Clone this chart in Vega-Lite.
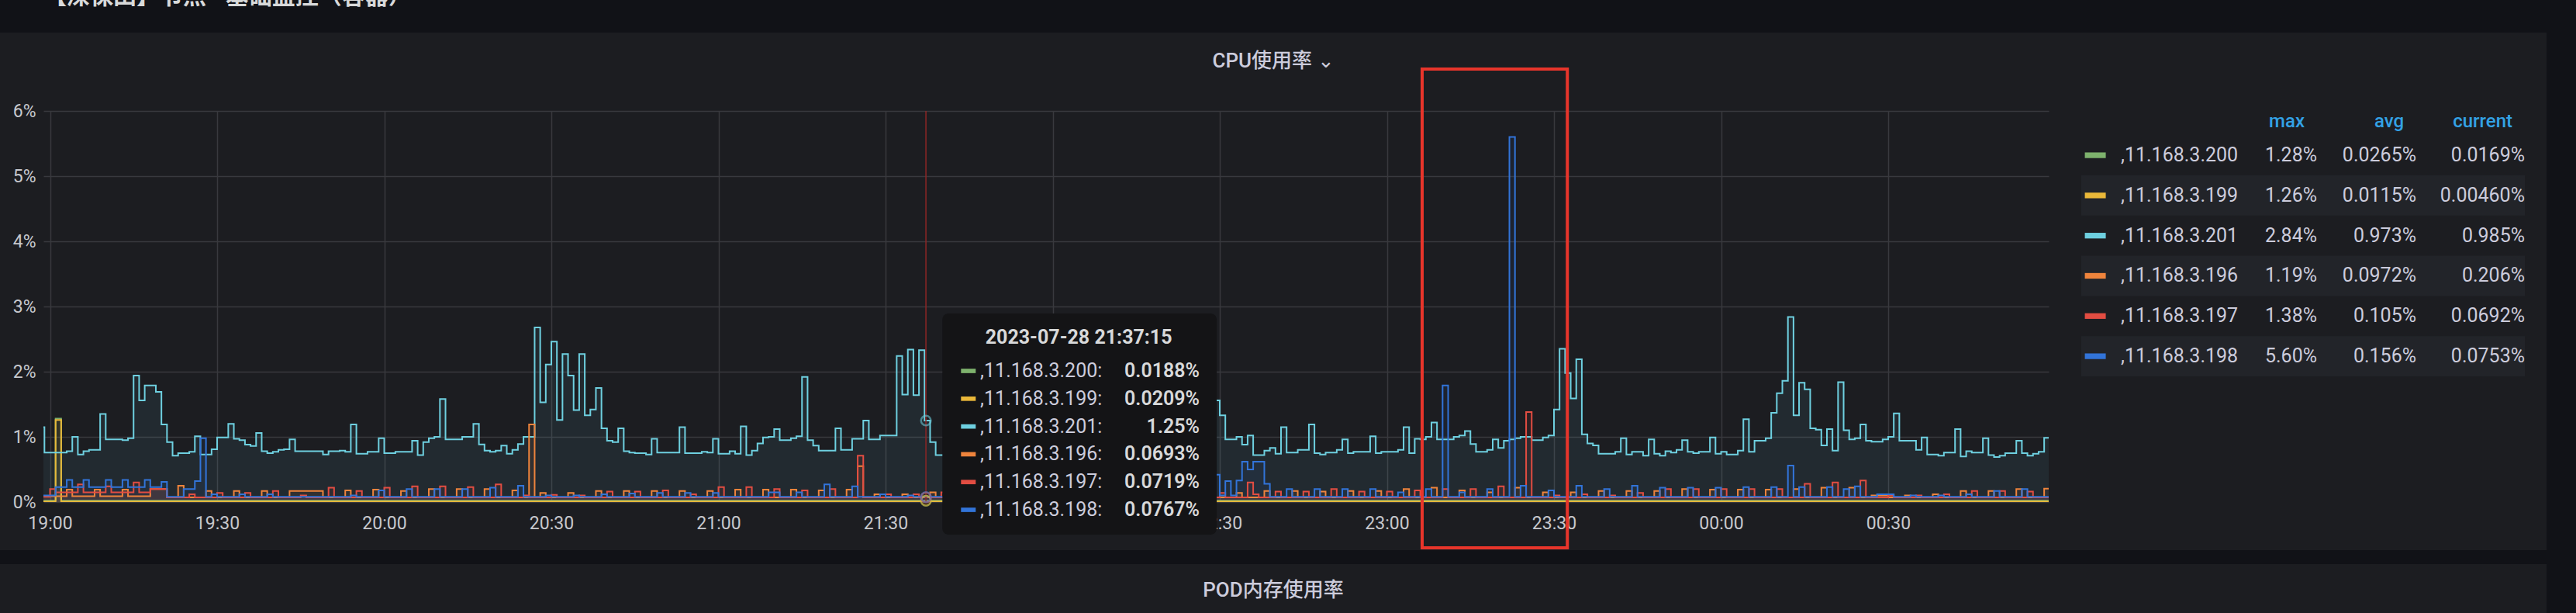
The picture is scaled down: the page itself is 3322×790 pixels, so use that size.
{
"$schema": "https://vega.github.io/schema/vega-lite/v6.json",
"padding": 0,
"autosize": {"type": "pad"},
"background": "#1c1d21",
"columns": 10,
"spacing": 0,
"bounds": "flush",
"align": "each",
"config": {
  "view": {"stroke": null},
  "font": "Roboto, 'Noto Sans CJK SC'",
  "axis": {"labelFont": "Roboto, 'Noto Sans CJK SC'"},
  "title": {"font": "Roboto, 'Noto Sans CJK SC'"}
},
"datasets": {
"ts": [
{"s":"200","t":"28 18:58","v":0.02},{"s":"200","t":"28 19:01","v":1.28},{"s":"200","t":"28 19:02","v":0.02},{"s":"200","t":"29 00:59","v":0.017},
{"s":"199","t":"28 18:58","v":0.01},{"s":"199","t":"28 19:01","v":1.26},{"s":"199","t":"28 19:02","v":0.01},{"s":"199","t":"29 00:59","v":0.005},
{"s":"201","t":"28 18:58","v":1.15},{"s":"201","t":"28 18:59","v":0.76},{"s":"201","t":"28 19:03","v":0.78},{"s":"201","t":"28 19:04","v":1.0},{"s":"201","t":"28 19:05","v":0.73},{"s":"201","t":"28 19:06","v":0.78},{"s":"201","t":"28 19:07","v":0.8},{"s":"201","t":"28 19:09","v":1.35},{"s":"201","t":"28 19:10","v":0.96},{"s":"201","t":"28 19:13","v":0.95},{"s":"201","t":"28 19:14","v":0.98},{"s":"201","t":"28 19:15","v":1.94},{"s":"201","t":"28 19:16","v":1.56},{"s":"201","t":"28 19:17","v":1.79},{"s":"201","t":"28 19:19","v":1.69},{"s":"201","t":"28 19:20","v":1.19},{"s":"201","t":"28 19:21","v":0.92},{"s":"201","t":"28 19:22","v":0.71},{"s":"201","t":"28 19:23","v":0.75},{"s":"201","t":"28 19:25","v":0.77},{"s":"201","t":"28 19:26","v":1.01},{"s":"201","t":"28 19:27","v":0.73},{"s":"201","t":"28 19:29","v":0.81},{"s":"201","t":"28 19:30","v":0.99},{"s":"201","t":"28 19:32","v":1.2},{"s":"201","t":"28 19:33","v":0.97},{"s":"201","t":"28 19:34","v":0.95},{"s":"201","t":"28 19:35","v":0.88},{"s":"201","t":"28 19:36","v":0.86},{"s":"201","t":"28 19:37","v":1.06},{"s":"201","t":"28 19:38","v":0.78},{"s":"201","t":"28 19:39","v":0.75},{"s":"201","t":"28 19:40","v":0.77},{"s":"201","t":"28 19:41","v":0.8},{"s":"201","t":"28 19:42","v":0.81},{"s":"201","t":"28 19:43","v":0.96},{"s":"201","t":"28 19:44","v":0.78},{"s":"201","t":"28 19:49","v":0.73},{"s":"201","t":"28 19:50","v":0.78},{"s":"201","t":"28 19:52","v":0.79},{"s":"201","t":"28 19:53","v":0.77},{"s":"201","t":"28 19:54","v":1.19},{"s":"201","t":"28 19:55","v":0.74},{"s":"201","t":"28 19:57","v":0.77},{"s":"201","t":"28 19:59","v":0.98},
{"s":"201","t":"28 20:00","v":0.75},{"s":"201","t":"28 20:02","v":0.77},{"s":"201","t":"28 20:05","v":0.94},{"s":"201","t":"28 20:06","v":0.72},{"s":"201","t":"28 20:07","v":0.92},{"s":"201","t":"28 20:08","v":0.98},{"s":"201","t":"28 20:09","v":1.0},{"s":"201","t":"28 20:10","v":1.58},{"s":"201","t":"28 20:11","v":0.96},{"s":"201","t":"28 20:14","v":1.0},{"s":"201","t":"28 20:16","v":1.2},{"s":"201","t":"28 20:17","v":0.885},{"s":"201","t":"28 20:18","v":0.79},{"s":"201","t":"28 20:19","v":0.77},{"s":"201","t":"28 20:20","v":0.79},{"s":"201","t":"28 20:21","v":0.865},{"s":"201","t":"28 20:22","v":0.74},{"s":"201","t":"28 20:23","v":0.8},{"s":"201","t":"28 20:24","v":0.89},{"s":"201","t":"28 20:25","v":1.0},{"s":"201","t":"28 20:27","v":2.68},{"s":"201","t":"28 20:28","v":1.53},{"s":"201","t":"28 20:29","v":2.11},{"s":"201","t":"28 20:30","v":2.46},{"s":"201","t":"28 20:31","v":1.26},{"s":"201","t":"28 20:32","v":2.27},{"s":"201","t":"28 20:33","v":1.94},{"s":"201","t":"28 20:34","v":1.41},{"s":"201","t":"28 20:35","v":2.27},{"s":"201","t":"28 20:36","v":1.33},{"s":"201","t":"28 20:37","v":1.42},{"s":"201","t":"28 20:38","v":1.75},{"s":"201","t":"28 20:39","v":1.13},{"s":"201","t":"28 20:40","v":0.94},{"s":"201","t":"28 20:41","v":0.92},{"s":"201","t":"28 20:42","v":1.13},{"s":"201","t":"28 20:43","v":0.78},{"s":"201","t":"28 20:44","v":0.76},{"s":"201","t":"28 20:45","v":0.75},{"s":"201","t":"28 20:47","v":0.73},{"s":"201","t":"28 20:48","v":0.97},{"s":"201","t":"28 20:49","v":0.76},{"s":"201","t":"28 20:53","v":1.15},{"s":"201","t":"28 20:54","v":0.75},{"s":"201","t":"28 20:57","v":0.77},{"s":"201","t":"28 20:58","v":0.76},{"s":"201","t":"28 20:59","v":0.97},
{"s":"201","t":"28 21:00","v":0.74},{"s":"201","t":"28 21:02","v":0.78},{"s":"201","t":"28 21:03","v":0.74},{"s":"201","t":"28 21:04","v":1.16},{"s":"201","t":"28 21:05","v":0.72},{"s":"201","t":"28 21:06","v":0.79},{"s":"201","t":"28 21:07","v":0.9},{"s":"201","t":"28 21:08","v":0.99},{"s":"201","t":"28 21:09","v":1.0},{"s":"201","t":"28 21:10","v":1.12},{"s":"201","t":"28 21:11","v":0.95},{"s":"201","t":"28 21:13","v":0.98},{"s":"201","t":"28 21:14","v":1.01},{"s":"201","t":"28 21:15","v":1.92},{"s":"201","t":"28 21:16","v":0.95},{"s":"201","t":"28 21:17","v":0.865},{"s":"201","t":"28 21:18","v":0.79},{"s":"201","t":"28 21:21","v":1.13},{"s":"201","t":"28 21:22","v":0.8},{"s":"201","t":"28 21:24","v":0.97},{"s":"201","t":"28 21:26","v":1.25},{"s":"201","t":"28 21:27","v":0.96},{"s":"201","t":"28 21:29","v":1.02},{"s":"201","t":"28 21:32","v":2.24},{"s":"201","t":"28 21:33","v":1.65},{"s":"201","t":"28 21:34","v":2.34},{"s":"201","t":"28 21:35","v":1.64},{"s":"201","t":"28 21:36","v":2.33},{"s":"201","t":"28 21:37","v":1.25},{"s":"201","t":"28 21:38","v":0.92},{"s":"201","t":"28 21:39","v":0.72},{"s":"201","t":"28 21:41","v":0.75},{"s":"201","t":"28 21:43","v":0.98},{"s":"201","t":"28 21:44","v":0.76},{"s":"201","t":"28 21:48","v":0.8},{"s":"201","t":"28 21:50","v":1.1},{"s":"201","t":"28 21:51","v":0.78},{"s":"201","t":"28 21:55","v":0.76},{"s":"201","t":"28 21:58","v":1.0},{"s":"201","t":"28 21:59","v":0.77},
{"s":"201","t":"28 22:03","v":0.8},{"s":"201","t":"28 22:06","v":1.12},{"s":"201","t":"28 22:07","v":0.78},{"s":"201","t":"28 22:10","v":0.76},{"s":"201","t":"28 22:14","v":0.95},{"s":"201","t":"28 22:15","v":0.77},{"s":"201","t":"28 22:18","v":0.8},{"s":"201","t":"28 22:22","v":1.2},{"s":"201","t":"28 22:23","v":0.78},{"s":"201","t":"28 22:26","v":0.8},{"s":"201","t":"28 22:29","v":1.56},{"s":"201","t":"28 22:30","v":1.33},{"s":"201","t":"28 22:31","v":0.96},{"s":"201","t":"28 22:33","v":1.0},{"s":"201","t":"28 22:34","v":0.88},{"s":"201","t":"28 22:35","v":1.02},{"s":"201","t":"28 22:36","v":0.72},{"s":"201","t":"28 22:38","v":0.79},{"s":"201","t":"28 22:39","v":0.83},{"s":"201","t":"28 22:40","v":0.74},{"s":"201","t":"28 22:41","v":1.15},{"s":"201","t":"28 22:42","v":0.76},{"s":"201","t":"28 22:44","v":0.8},{"s":"201","t":"28 22:46","v":1.19},{"s":"201","t":"28 22:47","v":0.75},{"s":"201","t":"28 22:48","v":0.73},{"s":"201","t":"28 22:49","v":0.76},{"s":"201","t":"28 22:51","v":0.8},{"s":"201","t":"28 22:52","v":0.96},{"s":"201","t":"28 22:53","v":0.75},{"s":"201","t":"28 22:54","v":0.77},{"s":"201","t":"28 22:57","v":1.01},{"s":"201","t":"28 22:58","v":0.75},{"s":"201","t":"28 22:59","v":0.77},
{"s":"201","t":"28 23:02","v":0.8},{"s":"201","t":"28 23:03","v":1.15},{"s":"201","t":"28 23:04","v":0.75},{"s":"201","t":"28 23:05","v":0.97},{"s":"201","t":"28 23:06","v":0.96},{"s":"201","t":"28 23:07","v":1.0},{"s":"201","t":"28 23:08","v":1.22},{"s":"201","t":"28 23:09","v":0.96},{"s":"201","t":"28 23:12","v":1.0},{"s":"201","t":"28 23:13","v":1.02},{"s":"201","t":"28 23:14","v":1.09},{"s":"201","t":"28 23:15","v":0.89},{"s":"201","t":"28 23:16","v":0.77},{"s":"201","t":"28 23:18","v":0.8},{"s":"201","t":"28 23:19","v":0.96},{"s":"201","t":"28 23:20","v":0.83},{"s":"201","t":"28 23:21","v":0.94},{"s":"201","t":"28 23:22","v":0.96},{"s":"201","t":"28 23:23","v":0.98},{"s":"201","t":"28 23:24","v":1.0},{"s":"201","t":"28 23:26","v":0.95},{"s":"201","t":"28 23:28","v":0.99},{"s":"201","t":"28 23:29","v":1.02},{"s":"201","t":"28 23:30","v":1.42},{"s":"201","t":"28 23:31","v":2.35},{"s":"201","t":"28 23:32","v":1.98},{"s":"201","t":"28 23:33","v":1.59},{"s":"201","t":"28 23:34","v":2.19},{"s":"201","t":"28 23:35","v":1.04},{"s":"201","t":"28 23:36","v":0.9},{"s":"201","t":"28 23:37","v":0.87},{"s":"201","t":"28 23:38","v":0.74},{"s":"201","t":"28 23:41","v":0.77},{"s":"201","t":"28 23:42","v":0.98},{"s":"201","t":"28 23:43","v":0.73},{"s":"201","t":"28 23:44","v":0.77},{"s":"201","t":"28 23:46","v":0.71},{"s":"201","t":"28 23:47","v":0.96},{"s":"201","t":"28 23:48","v":0.74},{"s":"201","t":"28 23:49","v":0.71},{"s":"201","t":"28 23:50","v":0.78},{"s":"201","t":"28 23:51","v":0.76},{"s":"201","t":"28 23:52","v":0.8},{"s":"201","t":"28 23:53","v":0.95},{"s":"201","t":"28 23:54","v":0.77},{"s":"201","t":"28 23:55","v":0.75},{"s":"201","t":"28 23:56","v":0.77},{"s":"201","t":"28 23:58","v":0.99},{"s":"201","t":"28 23:59","v":0.74},
{"s":"201","t":"29 00:00","v":0.77},{"s":"201","t":"29 00:01","v":0.73},{"s":"201","t":"29 00:03","v":0.79},{"s":"201","t":"29 00:04","v":1.27},{"s":"201","t":"29 00:05","v":0.77},{"s":"201","t":"29 00:06","v":0.94},{"s":"201","t":"29 00:08","v":0.98},{"s":"201","t":"29 00:09","v":1.37},{"s":"201","t":"29 00:10","v":1.67},{"s":"201","t":"29 00:11","v":1.86},{"s":"201","t":"29 00:12","v":2.84},{"s":"201","t":"29 00:13","v":1.33},{"s":"201","t":"29 00:14","v":1.83},{"s":"201","t":"29 00:15","v":1.73},{"s":"201","t":"29 00:16","v":1.13},{"s":"201","t":"29 00:17","v":1.11},{"s":"201","t":"29 00:18","v":0.87},{"s":"201","t":"29 00:19","v":1.12},{"s":"201","t":"29 00:20","v":0.79},{"s":"201","t":"29 00:21","v":1.84},{"s":"201","t":"29 00:22","v":1.1},{"s":"201","t":"29 00:23","v":0.96},{"s":"201","t":"29 00:24","v":0.98},{"s":"201","t":"29 00:25","v":1.19},{"s":"201","t":"29 00:26","v":0.94},{"s":"201","t":"29 00:27","v":0.925},{"s":"201","t":"29 00:29","v":0.96},{"s":"201","t":"29 00:30","v":1.0},{"s":"201","t":"29 00:31","v":1.36},{"s":"201","t":"29 00:32","v":0.94},{"s":"201","t":"29 00:35","v":0.8},{"s":"201","t":"29 00:36","v":0.99},{"s":"201","t":"29 00:37","v":0.73},{"s":"201","t":"29 00:39","v":0.71},{"s":"201","t":"29 00:40","v":0.76},{"s":"201","t":"29 00:42","v":1.12},{"s":"201","t":"29 00:43","v":0.7},{"s":"201","t":"29 00:44","v":0.78},{"s":"201","t":"29 00:45","v":0.76},{"s":"201","t":"29 00:47","v":0.98},{"s":"201","t":"29 00:48","v":0.72},{"s":"201","t":"29 00:49","v":0.69},{"s":"201","t":"29 00:50","v":0.71},{"s":"201","t":"29 00:51","v":0.75},{"s":"201","t":"29 00:53","v":0.94},{"s":"201","t":"29 00:54","v":0.75},{"s":"201","t":"29 00:55","v":0.71},{"s":"201","t":"29 00:56","v":0.74},{"s":"201","t":"29 00:57","v":0.77},{"s":"201","t":"29 00:58","v":0.985},{"s":"201","t":"29 00:59","v":0.985},
{"s":"196","t":"28 18:58","v":0.09},{"s":"196","t":"28 19:03","v":0.19},{"s":"196","t":"28 19:04","v":0.09},{"s":"196","t":"28 19:08","v":0.19},{"s":"196","t":"28 19:09","v":0.09},{"s":"196","t":"28 19:13","v":0.19},{"s":"196","t":"28 19:14","v":0.09},{"s":"196","t":"28 19:18","v":0.2},{"s":"196","t":"28 19:21","v":0.07},{"s":"196","t":"28 19:23","v":0.25},{"s":"196","t":"28 19:24","v":0.07},{"s":"196","t":"28 19:28","v":0.17},{"s":"196","t":"28 19:29","v":0.07},{"s":"196","t":"28 19:33","v":0.17},{"s":"196","t":"28 19:34","v":0.07},{"s":"196","t":"28 19:38","v":0.17},{"s":"196","t":"28 19:39","v":0.07},{"s":"196","t":"28 19:43","v":0.17},{"s":"196","t":"28 19:49","v":0.07},{"s":"196","t":"28 19:53","v":0.18},{"s":"196","t":"28 19:54","v":0.07},{"s":"196","t":"28 19:58","v":0.19},{"s":"196","t":"28 19:59","v":0.07},{"s":"196","t":"28 20:03","v":0.17},{"s":"196","t":"28 20:04","v":0.07},{"s":"196","t":"28 20:08","v":0.2},{"s":"196","t":"28 20:09","v":0.07},{"s":"196","t":"28 20:13","v":0.2},{"s":"196","t":"28 20:14","v":0.07},{"s":"196","t":"28 20:18","v":0.2},{"s":"196","t":"28 20:19","v":0.07},{"s":"196","t":"28 20:23","v":0.18},{"s":"196","t":"28 20:24","v":0.07},{"s":"196","t":"28 20:26","v":1.19},{"s":"196","t":"28 20:27","v":0.07},{"s":"196","t":"28 20:28","v":0.14},{"s":"196","t":"28 20:29","v":0.07},{"s":"196","t":"28 20:33","v":0.14},{"s":"196","t":"28 20:34","v":0.07},{"s":"196","t":"28 20:38","v":0.17},{"s":"196","t":"28 20:39","v":0.07},{"s":"196","t":"28 20:43","v":0.17},{"s":"196","t":"28 20:44","v":0.07},{"s":"196","t":"28 20:48","v":0.17},{"s":"196","t":"28 20:49","v":0.07},{"s":"196","t":"28 20:53","v":0.17},{"s":"196","t":"28 20:54","v":0.07},{"s":"196","t":"28 20:58","v":0.17},{"s":"196","t":"28 20:59","v":0.07},{"s":"196","t":"28 21:03","v":0.19},{"s":"196","t":"28 21:04","v":0.07},{"s":"196","t":"28 21:08","v":0.19},{"s":"196","t":"28 21:09","v":0.07},{"s":"196","t":"28 21:13","v":0.19},{"s":"196","t":"28 21:14","v":0.07},{"s":"196","t":"28 21:18","v":0.18},{"s":"196","t":"28 21:19","v":0.07},{"s":"196","t":"28 21:23","v":0.19},{"s":"196","t":"28 21:24","v":0.07},{"s":"196","t":"28 21:25","v":0.55},{"s":"196","t":"28 21:26","v":0.07},{"s":"196","t":"28 21:28","v":0.12},{"s":"196","t":"28 21:29","v":0.07},{"s":"196","t":"28 21:33","v":0.12},{"s":"196","t":"28 21:34","v":0.07},{"s":"196","t":"28 21:38","v":0.15},{"s":"196","t":"28 21:39","v":0.07},{"s":"196","t":"28 21:43","v":0.17},{"s":"196","t":"28 21:44","v":0.07},{"s":"196","t":"28 21:48","v":0.17},{"s":"196","t":"28 21:49","v":0.07},{"s":"196","t":"28 21:53","v":0.17},{"s":"196","t":"28 21:54","v":0.07},{"s":"196","t":"28 21:58","v":0.17},{"s":"196","t":"28 21:59","v":0.07},{"s":"196","t":"28 22:03","v":0.17},{"s":"196","t":"28 22:04","v":0.07},{"s":"196","t":"28 22:08","v":0.17},{"s":"196","t":"28 22:09","v":0.07},{"s":"196","t":"28 22:13","v":0.17},{"s":"196","t":"28 22:14","v":0.07},{"s":"196","t":"28 22:18","v":0.17},{"s":"196","t":"28 22:19","v":0.07},{"s":"196","t":"28 22:23","v":0.17},{"s":"196","t":"28 22:24","v":0.07},{"s":"196","t":"28 22:28","v":0.17},{"s":"196","t":"28 22:29","v":0.07},{"s":"196","t":"28 22:33","v":0.14},{"s":"196","t":"28 22:34","v":0.07},{"s":"196","t":"28 22:38","v":0.17},{"s":"196","t":"28 22:39","v":0.07},{"s":"196","t":"28 22:43","v":0.17},{"s":"196","t":"28 22:44","v":0.07},{"s":"196","t":"28 22:48","v":0.16},{"s":"196","t":"28 22:49","v":0.07},{"s":"196","t":"28 22:53","v":0.17},{"s":"196","t":"28 22:54","v":0.07},{"s":"196","t":"28 22:58","v":0.17},{"s":"196","t":"28 22:59","v":0.07},{"s":"196","t":"28 23:03","v":0.2},{"s":"196","t":"28 23:04","v":0.07},{"s":"196","t":"28 23:08","v":0.22},{"s":"196","t":"28 23:09","v":0.07},{"s":"196","t":"28 23:13","v":0.18},{"s":"196","t":"28 23:14","v":0.07},{"s":"196","t":"28 23:18","v":0.15},{"s":"196","t":"28 23:19","v":0.07},{"s":"196","t":"28 23:23","v":0.22},{"s":"196","t":"28 23:24","v":0.07},{"s":"196","t":"28 23:28","v":0.15},{"s":"196","t":"28 23:29","v":0.07},{"s":"196","t":"28 23:33","v":0.15},{"s":"196","t":"28 23:34","v":0.07},{"s":"196","t":"28 23:38","v":0.17},{"s":"196","t":"28 23:39","v":0.07},{"s":"196","t":"28 23:43","v":0.17},{"s":"196","t":"28 23:44","v":0.07},{"s":"196","t":"28 23:48","v":0.17},{"s":"196","t":"28 23:49","v":0.07},{"s":"196","t":"28 23:53","v":0.2},{"s":"196","t":"28 23:54","v":0.07},{"s":"196","t":"28 23:58","v":0.19},{"s":"196","t":"28 23:59","v":0.07},{"s":"196","t":"29 00:03","v":0.19},{"s":"196","t":"29 00:04","v":0.07},{"s":"196","t":"29 00:08","v":0.19},{"s":"196","t":"29 00:09","v":0.07},{"s":"196","t":"29 00:13","v":0.2},{"s":"196","t":"29 00:14","v":0.07},{"s":"196","t":"29 00:18","v":0.22},{"s":"196","t":"29 00:19","v":0.07},{"s":"196","t":"29 00:23","v":0.22},{"s":"196","t":"29 00:24","v":0.07},{"s":"196","t":"29 00:27","v":0.1},{"s":"196","t":"29 00:30","v":0.07},{"s":"196","t":"29 00:33","v":0.1},{"s":"196","t":"29 00:34","v":0.07},{"s":"196","t":"29 00:38","v":0.12},{"s":"196","t":"29 00:39","v":0.07},{"s":"196","t":"29 00:43","v":0.17},{"s":"196","t":"29 00:44","v":0.07},{"s":"196","t":"29 00:48","v":0.17},{"s":"196","t":"29 00:49","v":0.07},{"s":"196","t":"29 00:53","v":0.2},{"s":"196","t":"29 00:54","v":0.07},{"s":"196","t":"29 00:58","v":0.206},{"s":"196","t":"29 00:59","v":0.206},
{"s":"197","t":"28 18:58","v":0.08},{"s":"197","t":"28 19:00","v":0.2},{"s":"197","t":"28 19:01","v":0.15},{"s":"197","t":"28 19:05","v":0.27},{"s":"197","t":"28 19:06","v":0.15},{"s":"197","t":"28 19:10","v":0.24},{"s":"197","t":"28 19:11","v":0.15},{"s":"197","t":"28 19:15","v":0.3},{"s":"197","t":"28 19:16","v":0.15},{"s":"197","t":"28 19:18","v":0.2},{"s":"197","t":"28 19:21","v":0.07},{"s":"197","t":"28 19:25","v":0.12},{"s":"197","t":"28 19:26","v":0.07},{"s":"197","t":"28 19:30","v":0.14},{"s":"197","t":"28 19:31","v":0.07},{"s":"197","t":"28 19:35","v":0.14},{"s":"197","t":"28 19:36","v":0.07},{"s":"197","t":"28 19:40","v":0.17},{"s":"197","t":"28 19:41","v":0.07},{"s":"197","t":"28 19:45","v":0.1},{"s":"197","t":"28 19:46","v":0.07},{"s":"197","t":"28 19:50","v":0.22},{"s":"197","t":"28 19:51","v":0.07},{"s":"197","t":"28 19:55","v":0.17},{"s":"197","t":"28 19:56","v":0.07},{"s":"197","t":"28 20:00","v":0.22},{"s":"197","t":"28 20:01","v":0.07},{"s":"197","t":"28 20:05","v":0.24},{"s":"197","t":"28 20:06","v":0.07},{"s":"197","t":"28 20:10","v":0.24},{"s":"197","t":"28 20:11","v":0.07},{"s":"197","t":"28 20:15","v":0.23},{"s":"197","t":"28 20:16","v":0.07},{"s":"197","t":"28 20:20","v":0.27},{"s":"197","t":"28 20:21","v":0.07},{"s":"197","t":"28 20:25","v":0.1},{"s":"197","t":"28 20:26","v":0.07},{"s":"197","t":"28 20:30","v":0.11},{"s":"197","t":"28 20:31","v":0.07},{"s":"197","t":"28 20:35","v":0.1},{"s":"197","t":"28 20:36","v":0.07},{"s":"197","t":"28 20:40","v":0.16},{"s":"197","t":"28 20:41","v":0.07},{"s":"197","t":"28 20:45","v":0.16},{"s":"197","t":"28 20:46","v":0.07},{"s":"197","t":"28 20:50","v":0.18},{"s":"197","t":"28 20:51","v":0.07},{"s":"197","t":"28 20:55","v":0.12},{"s":"197","t":"28 20:56","v":0.07},{"s":"197","t":"28 21:00","v":0.23},{"s":"197","t":"28 21:01","v":0.07},{"s":"197","t":"28 21:05","v":0.23},{"s":"197","t":"28 21:06","v":0.07},{"s":"197","t":"28 21:10","v":0.2},{"s":"197","t":"28 21:11","v":0.07},{"s":"197","t":"28 21:15","v":0.18},{"s":"197","t":"28 21:16","v":0.07},{"s":"197","t":"28 21:20","v":0.2},{"s":"197","t":"28 21:21","v":0.07},{"s":"197","t":"28 21:25","v":0.71},{"s":"197","t":"28 21:26","v":0.07},{"s":"197","t":"28 21:30","v":0.12},{"s":"197","t":"28 21:31","v":0.07},{"s":"197","t":"28 21:35","v":0.12},{"s":"197","t":"28 21:36","v":0.07},{"s":"197","t":"28 21:40","v":0.15},{"s":"197","t":"28 21:41","v":0.07},{"s":"197","t":"28 21:45","v":0.2},{"s":"197","t":"28 21:46","v":0.07},{"s":"197","t":"28 21:50","v":0.2},{"s":"197","t":"28 21:51","v":0.07},{"s":"197","t":"28 21:55","v":0.2},{"s":"197","t":"28 21:56","v":0.07},{"s":"197","t":"28 22:00","v":0.2},{"s":"197","t":"28 22:01","v":0.07},{"s":"197","t":"28 22:05","v":0.2},{"s":"197","t":"28 22:06","v":0.07},{"s":"197","t":"28 22:10","v":0.2},{"s":"197","t":"28 22:11","v":0.07},{"s":"197","t":"28 22:15","v":0.2},{"s":"197","t":"28 22:16","v":0.07},{"s":"197","t":"28 22:20","v":0.2},{"s":"197","t":"28 22:21","v":0.07},{"s":"197","t":"28 22:25","v":0.2},{"s":"197","t":"28 22:26","v":0.07},{"s":"197","t":"28 22:30","v":0.14},{"s":"197","t":"28 22:31","v":0.07},{"s":"197","t":"28 22:35","v":0.3},{"s":"197","t":"28 22:36","v":0.12},{"s":"197","t":"28 22:37","v":0.07},{"s":"197","t":"28 22:40","v":0.16},{"s":"197","t":"28 22:41","v":0.07},{"s":"197","t":"28 22:45","v":0.16},{"s":"197","t":"28 22:46","v":0.07},{"s":"197","t":"28 22:50","v":0.2},{"s":"197","t":"28 22:51","v":0.07},{"s":"197","t":"28 22:55","v":0.16},{"s":"197","t":"28 22:56","v":0.07},{"s":"197","t":"28 23:00","v":0.16},{"s":"197","t":"28 23:01","v":0.07},{"s":"197","t":"28 23:05","v":0.18},{"s":"197","t":"28 23:06","v":0.07},{"s":"197","t":"28 23:10","v":0.2},{"s":"197","t":"28 23:11","v":0.07},{"s":"197","t":"28 23:15","v":0.2},{"s":"197","t":"28 23:16","v":0.07},{"s":"197","t":"28 23:20","v":0.24},{"s":"197","t":"28 23:21","v":0.07},{"s":"197","t":"28 23:25","v":1.38},{"s":"197","t":"28 23:26","v":0.07},{"s":"197","t":"28 23:30","v":0.1},{"s":"197","t":"28 23:31","v":0.07},{"s":"197","t":"28 23:35","v":0.12},{"s":"197","t":"28 23:36","v":0.07},{"s":"197","t":"28 23:40","v":0.1},{"s":"197","t":"28 23:41","v":0.07},{"s":"197","t":"28 23:45","v":0.14},{"s":"197","t":"28 23:46","v":0.07},{"s":"197","t":"28 23:50","v":0.2},{"s":"197","t":"28 23:51","v":0.07},{"s":"197","t":"28 23:55","v":0.2},{"s":"197","t":"28 23:56","v":0.07},{"s":"197","t":"29 00:00","v":0.2},{"s":"197","t":"29 00:01","v":0.07},{"s":"197","t":"29 00:05","v":0.2},{"s":"197","t":"29 00:06","v":0.07},{"s":"197","t":"29 00:10","v":0.2},{"s":"197","t":"29 00:11","v":0.07},{"s":"197","t":"29 00:15","v":0.28},{"s":"197","t":"29 00:16","v":0.07},{"s":"197","t":"29 00:20","v":0.3},{"s":"197","t":"29 00:21","v":0.07},{"s":"197","t":"29 00:25","v":0.33},{"s":"197","t":"29 00:26","v":0.07},{"s":"197","t":"29 00:30","v":0.1},{"s":"197","t":"29 00:31","v":0.07},{"s":"197","t":"29 00:35","v":0.1},{"s":"197","t":"29 00:36","v":0.07},{"s":"197","t":"29 00:40","v":0.12},{"s":"197","t":"29 00:41","v":0.07},{"s":"197","t":"29 00:45","v":0.17},{"s":"197","t":"29 00:46","v":0.07},{"s":"197","t":"29 00:50","v":0.17},{"s":"197","t":"29 00:51","v":0.07},{"s":"197","t":"29 00:55","v":0.16},{"s":"197","t":"29 00:56","v":0.07},{"s":"197","t":"29 00:59","v":0.0692},
{"s":"198","t":"28 18:58","v":0.1},{"s":"198","t":"28 19:01","v":0.23},{"s":"198","t":"28 19:03","v":0.34},{"s":"198","t":"28 19:04","v":0.23},{"s":"198","t":"28 19:06","v":0.34},{"s":"198","t":"28 19:07","v":0.23},{"s":"198","t":"28 19:10","v":0.34},{"s":"198","t":"28 19:11","v":0.23},{"s":"198","t":"28 19:13","v":0.34},{"s":"198","t":"28 19:14","v":0.23},{"s":"198","t":"28 19:17","v":0.34},{"s":"198","t":"28 19:18","v":0.23},{"s":"198","t":"28 19:20","v":0.31},{"s":"198","t":"28 19:21","v":0.08},{"s":"198","t":"28 19:24","v":0.2},{"s":"198","t":"28 19:26","v":0.32},{"s":"198","t":"28 19:27","v":0.98},{"s":"198","t":"28 19:28","v":0.08},{"s":"198","t":"28 19:29","v":0.12},{"s":"198","t":"28 19:30","v":0.08},{"s":"198","t":"28 19:34","v":0.12},{"s":"198","t":"28 19:35","v":0.08},{"s":"198","t":"28 19:39","v":0.12},{"s":"198","t":"28 19:40","v":0.08},{"s":"198","t":"28 19:54","v":0.1},{"s":"198","t":"28 19:55","v":0.08},{"s":"198","t":"28 19:59","v":0.18},{"s":"198","t":"28 20:00","v":0.08},{"s":"198","t":"28 20:04","v":0.2},{"s":"198","t":"28 20:05","v":0.08},{"s":"198","t":"28 20:09","v":0.2},{"s":"198","t":"28 20:10","v":0.08},{"s":"198","t":"28 20:14","v":0.2},{"s":"198","t":"28 20:15","v":0.08},{"s":"198","t":"28 20:19","v":0.22},{"s":"198","t":"28 20:20","v":0.08},{"s":"198","t":"28 20:24","v":0.25},{"s":"198","t":"28 20:25","v":0.08},{"s":"198","t":"28 20:29","v":0.1},{"s":"198","t":"28 20:30","v":0.08},{"s":"198","t":"28 20:34","v":0.1},{"s":"198","t":"28 20:35","v":0.08},{"s":"198","t":"28 20:39","v":0.12},{"s":"198","t":"28 20:40","v":0.08},{"s":"198","t":"28 20:44","v":0.13},{"s":"198","t":"28 20:45","v":0.08},{"s":"198","t":"28 20:49","v":0.14},{"s":"198","t":"28 20:50","v":0.08},{"s":"198","t":"28 20:54","v":0.14},{"s":"198","t":"28 20:55","v":0.08},{"s":"198","t":"28 20:59","v":0.14},{"s":"198","t":"28 21:00","v":0.08},{"s":"198","t":"28 21:09","v":0.15},{"s":"198","t":"28 21:11","v":0.08},{"s":"198","t":"28 21:14","v":0.15},{"s":"198","t":"28 21:15","v":0.08},{"s":"198","t":"28 21:19","v":0.27},{"s":"198","t":"28 21:20","v":0.08},{"s":"198","t":"28 21:24","v":0.24},{"s":"198","t":"28 21:25","v":0.08},{"s":"198","t":"28 21:29","v":0.12},{"s":"198","t":"28 21:30","v":0.08},{"s":"198","t":"28 21:34","v":0.1},{"s":"198","t":"28 21:35","v":0.08},{"s":"198","t":"28 21:44","v":0.15},{"s":"198","t":"28 21:45","v":0.08},{"s":"198","t":"28 21:49","v":0.15},{"s":"198","t":"28 21:50","v":0.08},{"s":"198","t":"28 21:54","v":0.15},{"s":"198","t":"28 21:55","v":0.08},{"s":"198","t":"28 21:59","v":0.15},{"s":"198","t":"28 22:00","v":0.08},{"s":"198","t":"28 22:04","v":0.15},{"s":"198","t":"28 22:05","v":0.08},{"s":"198","t":"28 22:09","v":0.15},{"s":"198","t":"28 22:10","v":0.08},{"s":"198","t":"28 22:14","v":0.15},{"s":"198","t":"28 22:15","v":0.08},{"s":"198","t":"28 22:19","v":0.15},{"s":"198","t":"28 22:20","v":0.08},{"s":"198","t":"28 22:24","v":0.15},{"s":"198","t":"28 22:25","v":0.08},{"s":"198","t":"28 22:29","v":0.42},{"s":"198","t":"28 22:30","v":0.1},{"s":"198","t":"28 22:31","v":0.32},{"s":"198","t":"28 22:32","v":0.1},{"s":"198","t":"28 22:33","v":0.33},{"s":"198","t":"28 22:34","v":0.62},{"s":"198","t":"28 22:35","v":0.5},{"s":"198","t":"28 22:36","v":0.62},{"s":"198","t":"28 22:38","v":0.28},{"s":"198","t":"28 22:39","v":0.08},{"s":"198","t":"28 22:42","v":0.2},{"s":"198","t":"28 22:43","v":0.08},{"s":"198","t":"28 22:47","v":0.2},{"s":"198","t":"28 22:48","v":0.08},{"s":"198","t":"28 22:52","v":0.2},{"s":"198","t":"28 22:53","v":0.08},{"s":"198","t":"28 22:57","v":0.2},{"s":"198","t":"28 22:58","v":0.08},{"s":"198","t":"28 23:02","v":0.15},{"s":"198","t":"28 23:03","v":0.08},{"s":"198","t":"28 23:07","v":0.2},{"s":"198","t":"28 23:08","v":0.08},{"s":"198","t":"28 23:10","v":1.79},{"s":"198","t":"28 23:11","v":0.08},{"s":"198","t":"28 23:13","v":0.15},{"s":"198","t":"28 23:14","v":0.08},{"s":"198","t":"28 23:18","v":0.2},{"s":"198","t":"28 23:19","v":0.08},{"s":"198","t":"28 23:22","v":5.6},{"s":"198","t":"28 23:23","v":0.08},{"s":"198","t":"28 23:24","v":0.25},{"s":"198","t":"28 23:25","v":0.08},{"s":"198","t":"28 23:29","v":0.18},{"s":"198","t":"28 23:30","v":0.08},{"s":"198","t":"28 23:34","v":0.25},{"s":"198","t":"28 23:35","v":0.08},{"s":"198","t":"28 23:39","v":0.2},{"s":"198","t":"28 23:40","v":0.08},{"s":"198","t":"28 23:44","v":0.25},{"s":"198","t":"28 23:45","v":0.08},{"s":"198","t":"28 23:49","v":0.22},{"s":"198","t":"28 23:50","v":0.08},{"s":"198","t":"28 23:54","v":0.22},{"s":"198","t":"28 23:55","v":0.08},{"s":"198","t":"28 23:59","v":0.22},{"s":"198","t":"29 00:00","v":0.08},{"s":"198","t":"29 00:04","v":0.23},{"s":"198","t":"29 00:05","v":0.08},{"s":"198","t":"29 00:09","v":0.23},{"s":"198","t":"29 00:10","v":0.08},{"s":"198","t":"29 00:12","v":0.56},{"s":"198","t":"29 00:13","v":0.08},{"s":"198","t":"29 00:14","v":0.23},{"s":"198","t":"29 00:15","v":0.08},{"s":"198","t":"29 00:19","v":0.23},{"s":"198","t":"29 00:20","v":0.08},{"s":"198","t":"29 00:22","v":0.2},{"s":"198","t":"29 00:23","v":0.08},{"s":"198","t":"29 00:24","v":0.24},{"s":"198","t":"29 00:25","v":0.08},{"s":"198","t":"29 00:28","v":0.12},{"s":"198","t":"29 00:31","v":0.08},{"s":"198","t":"29 00:34","v":0.1},{"s":"198","t":"29 00:35","v":0.08},{"s":"198","t":"29 00:39","v":0.1},{"s":"198","t":"29 00:40","v":0.08},{"s":"198","t":"29 00:44","v":0.12},{"s":"198","t":"29 00:45","v":0.08},{"s":"198","t":"29 00:49","v":0.17},{"s":"198","t":"29 00:50","v":0.08},{"s":"198","t":"29 00:54","v":0.2},{"s":"198","t":"29 00:55","v":0.08},{"s":"198","t":"29 00:59","v":0.0753}
],
"tip": [
{"s":"200","name":",11.168.3.200:","val":"0.0188%","n":0.0188,"k":1},
{"s":"199","name":",11.168.3.199:","val":"0.0209%","n":0.0209,"k":2},
{"s":"201","name":",11.168.3.201:","val":"1.25%","n":1.25,"k":3},
{"s":"196","name":",11.168.3.196:","val":"0.0693%","n":0.0693,"k":4},
{"s":"197","name":",11.168.3.197:","val":"0.0719%","n":0.0719,"k":5},
{"s":"198","name":",11.168.3.198:","val":"0.0767%","n":0.0767,"k":6}
],
"tbl": [
{"s":"200","c":"name","v":",11.168.3.200"},{"s":"200","c":"max","v":"1.28%"},{"s":"200","c":"avg","v":"0.0265%"},{"s":"200","c":"current","v":"0.0169%"},
{"s":"199","c":"name","v":",11.168.3.199"},{"s":"199","c":"max","v":"1.26%"},{"s":"199","c":"avg","v":"0.0115%"},{"s":"199","c":"current","v":"0.00460%"},
{"s":"201","c":"name","v":",11.168.3.201"},{"s":"201","c":"max","v":"2.84%"},{"s":"201","c":"avg","v":"0.973%"},{"s":"201","c":"current","v":"0.985%"},
{"s":"196","c":"name","v":",11.168.3.196"},{"s":"196","c":"max","v":"1.19%"},{"s":"196","c":"avg","v":"0.0972%"},{"s":"196","c":"current","v":"0.206%"},
{"s":"197","c":"name","v":",11.168.3.197"},{"s":"197","c":"max","v":"1.38%"},{"s":"197","c":"avg","v":"0.105%"},{"s":"197","c":"current","v":"0.0692%"},
{"s":"198","c":"name","v":",11.168.3.198"},{"s":"198","c":"max","v":"5.60%"},{"s":"198","c":"avg","v":"0.156%"},{"s":"198","c":"current","v":"0.0753%"}
]
},
"concat": [
{"width": 56, "height": 42, "view": {"fill": "#111217"}, "data": {"values": []}, "mark": "point"},
{
  "width": 2586, "height": 42,
  "view": {"fill": "#111217"},
  "data": {"values": [{"title": "【深保田】节点 - 基础监控（容器）"}]},
  "mark": {"type": "text", "clip": true, "align": "left", "baseline": "middle", "dy": -4, "fontSize": 30, "fontWeight": "bold", "color": "#d8d9da", "font": "'Noto Sans CJK SC'"},
  "encoding": {
    "text": {"field": "title"},
    "x": {"datum": 0, "type": "quantitative", "scale": {"domain": [0, 1]}, "axis": null},
    "y": {"datum": 1, "type": "quantitative", "scale": {"domain": [0, 1]}, "axis": null}
  }
},
{"width": 42, "height": 42, "view": {"fill": "#111217"}, "data": {"values": []}, "mark": "point"},
{"width": 51, "height": 42, "view": {"fill": "#111217"}, "data": {"values": []}, "mark": "point"},
{"width": 155, "height": 42, "view": {"fill": "#111217"}, "data": {"values": []}, "mark": "point"},
{"width": 98, "height": 42, "view": {"fill": "#111217"}, "data": {"values": []}, "mark": "point"},
{"width": 128, "height": 42, "view": {"fill": "#111217"}, "data": {"values": []}, "mark": "point"},
{"width": 140, "height": 42, "view": {"fill": "#111217"}, "data": {"values": []}, "mark": "point"},
{"width": 28, "height": 42, "view": {"fill": "#111217"}, "data": {"values": []}, "mark": "point"},
{"width": 38, "height": 42, "view": {"fill": "#111217"}, "data": {"values": []}, "mark": "point"},

{"width": 56, "height": 101, "data": {"values": []}, "mark": "point"},
{
  "width": 2586, "height": 101,
  "view": {"fill": "#1c1d21"},
  "title": {"text": "CPU使用率 ⌄", "orient": "top", "anchor": "middle", "frame": "group", "dx": 293, "offset": -63, "baseline": "middle", "fontSize": 26, "fontWeight": 500, "color": "#ccccdc"},
  "data": {"values": []},
  "mark": "point"
},
{"width": 42, "height": 101, "data": {"values": []}, "mark": "point"},
{"width": 51, "height": 101, "data": {"values": []}, "mark": "point"},
{"width": 155, "height": 101, "data": {"values": []}, "mark": "point"},
{"width": 98, "height": 101, "data": {"values": []}, "mark": "point"},
{"width": 128, "height": 101, "data": {"values": []}, "mark": "point"},
{"width": 140, "height": 101, "data": {"values": []}, "mark": "point"},
{"width": 28, "height": 101, "data": {"values": []}, "mark": "point"},
{"width": 38, "height": 101, "view": {"fill": "#111217"}, "data": {"values": []}, "mark": "point"},

{"width": 56, "height": 566, "data": {"values": []}, "mark": "point"},
{
  "width": 2586, "height": 504,
  "layer": [
    {
      "layer": [
        {
          "data": {"name": "ts", "format": {"parse": {"t": "date:'%d %H:%M'"}}},
          "layer": [
            {
              "mark": {"type": "area", "interpolate": "step-after", "fillOpacity": 0.08, "clip": true},
              "encoding": {
                "x": {"field": "t", "type": "temporal"},
                "y": {"field": "v", "type": "quantitative", "stack": null},
                "color": {"field": "s", "type": "nominal", "scale": {"domain": ["200","199","201","196","197","198"], "range": ["#7EB26D","#EAB839","#6ED0E0","#EF843C","#E24D42","#3274D9"]}, "legend": null}
              }
            },
            {
              "mark": {"type": "line", "interpolate": "step-after", "strokeWidth": 2, "clip": true},
              "encoding": {
                "x": {"field": "t", "type": "temporal",
                  "scale": {"domain": [{"year":1900,"month":1,"date":28,"hours":18,"minutes":58,"seconds":49},{"year":1900,"month":1,"date":29,"hours":0,"minutes":58,"seconds":49}]},
                  "axis": {"values": [
                    {"year":1900,"month":1,"date":28,"hours":19,"minutes":0},{"year":1900,"month":1,"date":28,"hours":19,"minutes":30},
                    {"year":1900,"month":1,"date":28,"hours":20,"minutes":0},{"year":1900,"month":1,"date":28,"hours":20,"minutes":30},
                    {"year":1900,"month":1,"date":28,"hours":21,"minutes":0},{"year":1900,"month":1,"date":28,"hours":21,"minutes":30},
                    {"year":1900,"month":1,"date":28,"hours":22,"minutes":0},{"year":1900,"month":1,"date":28,"hours":22,"minutes":30},
                    {"year":1900,"month":1,"date":28,"hours":23,"minutes":0},{"year":1900,"month":1,"date":28,"hours":23,"minutes":30},
                    {"year":1900,"month":1,"date":29,"hours":0,"minutes":0},{"year":1900,"month":1,"date":29,"hours":0,"minutes":30}],
                    "format": "%H:%M", "labelExpr": "datum.label === '22:00' ? '' : datum.label",
                    "labelColor": "#c7c8cd", "labelFontSize": 23, "labelPadding": 16, "labelFlush": false,
                    "grid": true, "gridColor": "#38393e", "gridWidth": 1.5, "domain": false, "ticks": false, "title": null}},
                "y": {"field": "v", "type": "quantitative", "stack": null,
                  "scale": {"domain": [0, 6], "nice": false, "zero": false},
                  "axis": {"values": [0,1,2,3,4,5,6], "labelExpr": "datum.value + '%'", "labelColor": "#c7c8cd", "labelFontSize": 23, "labelPadding": 10,
                    "grid": true, "gridColor": "#38393e", "gridWidth": 1.5, "domain": false, "ticks": false, "title": null}},
                "color": {"field": "s", "type": "nominal", "scale": {"domain": ["200","199","201","196","197","198"], "range": ["#7EB26D","#EAB839","#6ED0E0","#EF843C","#E24D42","#3274D9"]}, "legend": null}
              }
            }
          ]
        },
        {
          "data": {"values": [{}]},
          "mark": {"type": "rule", "color": "#8e2626", "strokeWidth": 1.5},
          "encoding": {"x": {"datum": {"year":1900,"month":1,"date":28,"hours":21,"minutes":37,"seconds":15}, "type": "temporal"}}
        },
        {
          "data": {"name": "tip"},
          "mark": {"type": "point", "filled": false, "size": 160, "strokeWidth": 2.5, "opacity": 0.55},
          "encoding": {
            "x": {"datum": {"year":1900,"month":1,"date":28,"hours":21,"minutes":37,"seconds":15}, "type": "temporal"},
            "y": {"field": "n", "type": "quantitative"},
            "color": {"field": "s", "type": "nominal", "scale": {"domain": ["200","199","201","196","197","198"], "range": ["#7EB26D","#EAB839","#6ED0E0","#EF843C","#E24D42","#3274D9"]}, "legend": null}
          }
        },
        {
          "data": {"values": [{}]},
          "mark": {"type": "rect", "fill": "#141416", "cornerRadius": 8},
          "encoding": {
            "x": {"datum": {"year":1900,"month":1,"date":28,"hours":21,"minutes":40,"seconds":12}, "type": "temporal"},
            "x2": {"datum": {"year":1900,"month":1,"date":28,"hours":22,"minutes":29,"seconds":27}},
            "y": {"datum": 2.893, "type": "quantitative"},
            "y2": {"datum": -0.5}
          }
        },
        {
          "data": {"values": [{"label": "2023-07-28 21:37:15"}]},
          "mark": {"type": "text", "align": "center", "baseline": "middle", "fontSize": 25, "fontWeight": "bold", "color": "#d8d9da"},
          "encoding": {
            "text": {"field": "label"},
            "x": {"datum": {"year":1900,"month":1,"date":28,"hours":22,"minutes":4,"seconds":41}, "type": "temporal"},
            "y": {"datum": 2.524, "type": "quantitative"}
          }
        },
        {
          "data": {"values": [{}]},
          "mark": {"type": "rect", "fillOpacity": 0, "stroke": "#e8352b", "strokeWidth": 4},
          "encoding": {
            "x": {"datum": {"year":1900,"month":1,"date":28,"hours":23,"minutes":6,"seconds":20}, "type": "temporal"},
            "x2": {"datum": {"year":1900,"month":1,"date":28,"hours":23,"minutes":32,"seconds":24}},
            "y": {"datum": 6.643, "type": "quantitative"},
            "y2": {"datum": -0.702}
          }
        }
      ]
    },
    {
      "data": {"name": "tip"},
      "encoding": {
        "y": {"field": "k", "type": "quantitative", "scale": {"domain": [-8.358, 5.72], "reverse": true}, "axis": null}
      },
      "layer": [
        {
          "mark": {"type": "point", "shape": "M-1,-0.3H1V0.3H-1Z", "size": 361, "filled": true, "opacity": 1},
          "encoding": {
            "x": {"datum": {"year":1900,"month":1,"date":28,"hours":21,"minutes":44,"seconds":52}, "type": "temporal"},
            "color": {"field": "s", "type": "nominal", "scale": {"domain": ["200","199","201","196","197","198"], "range": ["#7EB26D","#EAB839","#6ED0E0","#EF843C","#E24D42","#3274D9"]}, "legend": null}
          }
        },
        {
          "mark": {"type": "text", "align": "left", "baseline": "middle", "fontSize": 25, "color": "#ccccdc"},
          "encoding": {
            "x": {"datum": {"year":1900,"month":1,"date":28,"hours":21,"minutes":47,"seconds":0}, "type": "temporal"},
            "text": {"field": "name"}
          }
        },
        {
          "mark": {"type": "text", "align": "right", "baseline": "middle", "fontSize": 25, "fontWeight": 600, "color": "#d8d9da"},
          "encoding": {
            "x": {"datum": {"year":1900,"month":1,"date":28,"hours":22,"minutes":26,"seconds":23}, "type": "temporal"},
            "text": {"field": "val"}
          }
        }
      ]
    }
  ],
  "resolve": {"scale": {"y": "independent"}}
},
{"width": 42, "height": 566, "data": {"values": []}, "mark": "point"},
{
  "width": 51, "height": 342,
  "data": {"name": "tbl"},
  "transform": [{"filter": "datum.c === 'name'"}],
  "encoding": {"y": {"field": "s", "type": "nominal", "scale": {"domain": ["200","199","201","196","197","198"], "paddingInner": 0, "paddingOuter": 0.301, "align": 1}, "axis": null}},
  "layer": [
    {"transform": [{"filter": {"field": "s", "oneOf": ["199","196","198"]}}], "mark": {"type": "rect", "color": "#222429"}, "encoding": {"x": {"value": 0}, "x2": {"value": "width"}}},
    {"mark": {"type": "point", "shape": "M-1.548,-0.27H0.452V0.27H-1.548Z", "size": 729, "filled": true, "opacity": 1},
     "encoding": {"color": {"field": "s", "type": "nominal", "scale": {"domain": ["200","199","201","196","197","198"], "range": ["#7EB26D","#EAB839","#6ED0E0","#EF843C","#E24D42","#3274D9"]}, "legend": null}}}
  ]
},
{
  "width": 155, "height": 342,
  "data": {"name": "tbl"},
  "transform": [{"filter": "datum.c === 'name'"}],
  "encoding": {"y": {"field": "s", "type": "nominal", "scale": {"domain": ["200","199","201","196","197","198"], "paddingInner": 0, "paddingOuter": 0.301, "align": 1}, "axis": null}},
  "layer": [
    {"transform": [{"filter": {"field": "s", "oneOf": ["199","196","198"]}}], "mark": {"type": "rect", "color": "#222429"}, "encoding": {"x": {"value": 0}, "x2": {"value": "width"}}},
    {"mark": {"type": "text", "align": "left", "baseline": "middle", "fontSize": 25, "color": "#ccccdc"}, "encoding": {"x": {"value": 0}, "text": {"field": "v"}}}
  ]
},
{
  "width": 98, "height": 342,
  "view": {"fill": "#1c1d21"},
  "title": {"text": "max", "orient": "top", "anchor": "end", "frame": "group", "dx": -16, "offset": -38, "baseline": "middle", "fontSize": 24, "fontWeight": 500, "color": "#33a2e5"},
  "data": {"name": "tbl"},
  "transform": [{"filter": "datum.c === 'max'"}],
  "encoding": {"y": {"field": "s", "type": "nominal", "scale": {"domain": ["200","199","201","196","197","198"], "paddingInner": 0, "paddingOuter": 0.301, "align": 1}, "axis": null}},
  "layer": [
    {"transform": [{"filter": {"field": "s", "oneOf": ["199","196","198"]}}], "mark": {"type": "rect", "color": "#222429"}, "encoding": {"x": {"value": 0}, "x2": {"value": "width"}}},
    {"mark": {"type": "text", "align": "right", "baseline": "middle", "fontSize": 25, "color": "#ccccdc"}, "encoding": {"x": {"value": "width"}, "text": {"field": "v"}}}
  ]
},
{
  "width": 128, "height": 342,
  "view": {"fill": "#1c1d21"},
  "title": {"text": "avg", "orient": "top", "anchor": "end", "frame": "group", "dx": -16, "offset": -38, "baseline": "middle", "fontSize": 24, "fontWeight": 500, "color": "#33a2e5"},
  "data": {"name": "tbl"},
  "transform": [{"filter": "datum.c === 'avg'"}],
  "encoding": {"y": {"field": "s", "type": "nominal", "scale": {"domain": ["200","199","201","196","197","198"], "paddingInner": 0, "paddingOuter": 0.301, "align": 1}, "axis": null}},
  "layer": [
    {"transform": [{"filter": {"field": "s", "oneOf": ["199","196","198"]}}], "mark": {"type": "rect", "color": "#222429"}, "encoding": {"x": {"value": 0}, "x2": {"value": "width"}}},
    {"mark": {"type": "text", "align": "right", "baseline": "middle", "fontSize": 25, "color": "#ccccdc"}, "encoding": {"x": {"value": "width"}, "text": {"field": "v"}}}
  ]
},
{
  "width": 140, "height": 342,
  "view": {"fill": "#1c1d21"},
  "title": {"text": "current", "orient": "top", "anchor": "end", "frame": "group", "dx": -16, "offset": -38, "baseline": "middle", "fontSize": 24, "fontWeight": 500, "color": "#33a2e5"},
  "data": {"name": "tbl"},
  "transform": [{"filter": "datum.c === 'current'"}],
  "encoding": {"y": {"field": "s", "type": "nominal", "scale": {"domain": ["200","199","201","196","197","198"], "paddingInner": 0, "paddingOuter": 0.301, "align": 1}, "axis": null}},
  "layer": [
    {"transform": [{"filter": {"field": "s", "oneOf": ["199","196","198"]}}], "mark": {"type": "rect", "color": "#222429"}, "encoding": {"x": {"value": 0}, "x2": {"value": "width"}}},
    {"mark": {"type": "text", "align": "right", "baseline": "middle", "fontSize": 25, "color": "#ccccdc"}, "encoding": {"x": {"value": "width"}, "text": {"field": "v"}}}
  ]
},
{"width": 28, "height": 566, "data": {"values": []}, "mark": "point"},
{"width": 38, "height": 566, "view": {"fill": "#111217"}, "data": {"values": []}, "mark": "point"},

{"width": 56, "height": 18, "view": {"fill": "#111217"}, "data": {"values": []}, "mark": "point"},
{"width": 2586, "height": 18, "view": {"fill": "#111217"}, "data": {"values": []}, "mark": "point"},
{"width": 42, "height": 18, "view": {"fill": "#111217"}, "data": {"values": []}, "mark": "point"},
{"width": 51, "height": 18, "view": {"fill": "#111217"}, "data": {"values": []}, "mark": "point"},
{"width": 155, "height": 18, "view": {"fill": "#111217"}, "data": {"values": []}, "mark": "point"},
{"width": 98, "height": 18, "view": {"fill": "#111217"}, "data": {"values": []}, "mark": "point"},
{"width": 128, "height": 18, "view": {"fill": "#111217"}, "data": {"values": []}, "mark": "point"},
{"width": 140, "height": 18, "view": {"fill": "#111217"}, "data": {"values": []}, "mark": "point"},
{"width": 28, "height": 18, "view": {"fill": "#111217"}, "data": {"values": []}, "mark": "point"},
{"width": 38, "height": 18, "view": {"fill": "#111217"}, "data": {"values": []}, "mark": "point"},

{"width": 56, "height": 63, "data": {"values": []}, "mark": "point"},
{
  "width": 2586, "height": 63,
  "view": {"fill": "#1c1d21"},
  "title": {"text": "POD内存使用率", "orient": "top", "anchor": "middle", "frame": "group", "dx": 293, "offset": -60, "baseline": "middle", "fontSize": 26, "fontWeight": 500, "color": "#ccccdc"},
  "data": {"values": []},
  "mark": "point"
},
{"width": 42, "height": 63, "data": {"values": []}, "mark": "point"},
{"width": 51, "height": 63, "data": {"values": []}, "mark": "point"},
{"width": 155, "height": 63, "data": {"values": []}, "mark": "point"},
{"width": 98, "height": 63, "data": {"values": []}, "mark": "point"},
{"width": 128, "height": 63, "data": {"values": []}, "mark": "point"},
{"width": 140, "height": 63, "data": {"values": []}, "mark": "point"},
{"width": 28, "height": 63, "data": {"values": []}, "mark": "point"},
{"width": 38, "height": 63, "view": {"fill": "#111217"}, "data": {"values": []}, "mark": "point"}
]
}
